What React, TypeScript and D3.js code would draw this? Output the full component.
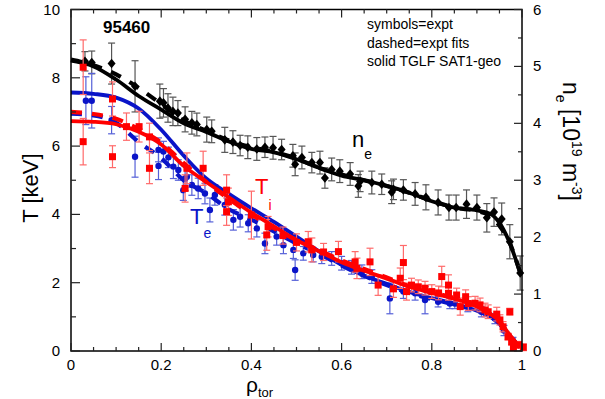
import React, { useEffect, useRef } from 'react';
import * as d3 from 'd3';

// experimental ne [1e19 m^-3]
const neRho = [0.031, 0.046, 0.09, 0.142, 0.197, 0.205, 0.215, 0.226, 0.237, 0.253, 0.268, 0.279, 0.301, 0.312, 0.341, 0.359, 0.375, 0.392, 0.412, 0.43, 0.448, 0.467, 0.492, 0.497, 0.512, 0.534, 0.552, 0.563, 0.578, 0.596, 0.619, 0.637, 0.641, 0.667, 0.689, 0.711, 0.715, 0.737, 0.763, 0.787, 0.814, 0.838, 0.854, 0.877, 0.9, 0.922, 0.938, 0.955, 0.973, 0.996];
const neVal = [5.09, 5.07, 5.05, 4.65, 4.39, 4.36, 4.27, 4.21, 4.18, 4.07, 4.01, 3.98, 3.89, 3.86, 3.71, 3.67, 3.61, 3.58, 3.55, 3.58, 3.57, 3.54, 3.43, 3.28, 3.4, 3.31, 3.31, 3.04, 3.19, 3.16, 3.11, 2.9, 2.98, 2.96, 2.93, 2.79, 2.84, 2.83, 2.76, 2.7, 2.61, 2.52, 2.52, 2.58, 2.52, 2.34, 2.44, 2.32, 1.92, 1.37];
const neErr = [0.17, 0.2, 0.36, 0.45, 0.3, 0.25, 0.25, 0.25, 0.22, 0.22, 0.2, 0.2, 0.22, 0.2, 0.22, 0.2, 0.18, 0.2, 0.2, 0.18, 0.2, 0.18, 0.2, 0.2, 0.2, 0.18, 0.2, 0.18, 0.2, 0.2, 0.2, 0.2, 0.18, 0.2, 0.18, 0.2, 0.18, 0.18, 0.2, 0.22, 0.22, 0.22, 0.22, 0.25, 0.22, 0.25, 0.25, 0.28, 0.3, 0.3];

// experimental Te [keV]
const teRho = [0.033, 0.046, 0.09, 0.142, 0.194, 0.194, 0.205, 0.216, 0.227, 0.238, 0.249, 0.253, 0.257, 0.268, 0.282, 0.297, 0.308, 0.319, 0.341, 0.36, 0.375, 0.393, 0.412, 0.43, 0.456, 0.471, 0.493, 0.497, 0.515, 0.537, 0.556, 0.578, 0.6, 0.622, 0.645, 0.667, 0.707, 0.737, 0.763, 0.785, 0.814, 0.84, 0.851, 0.88, 0.91, 0.94, 0.96, 0.98];
const teVal = [7.33, 7.33, 6.76, 5.69, 5.89, 5.42, 5.84, 5.67, 5.4, 5.3, 4.71, 5.05, 5.1, 4.86, 4.76, 4.61, 4.13, 4.57, 4.28, 3.84, 3.93, 3.74, 3.59, 3.15, 3.35, 3.1, 2.96, 2.37, 2.86, 2.81, 2.76, 2.71, 2.57, 2.45, 2.32, 2.18, 1.54, 1.74, 1.69, 1.49, 1.44, 1.39, 1.39, 1.3, 1.15, 0.95, 0.6, 0.3];
const teErr = [0.7, 0.8, 0.4, 0.6, 0.35, 0.4, 0.3, 0.3, 0.35, 0.3, 0.3, 0.35, 0.3, 0.3, 0.3, 0.3, 0.35, 0.3, 0.3, 0.3, 0.3, 0.25, 0.25, 0.3, 0.25, 0.25, 0.25, 0.3, 0.2, 0.2, 0.2, 0.2, 0.2, 0.2, 0.2, 0.2, 0.45, 0.2, 0.2, 0.4, 0.15, 0.15, 0.15, 0.15, 0.15, 0.15, 0.15, 0.1];

// experimental Ti [keV]
const tiRho = [0.027, 0.027, 0.092, 0.092, 0.123, 0.151, 0.174, 0.174, 0.253, 0.257, 0.293, 0.345, 0.345, 0.349, 0.4, 0.434, 0.437, 0.47, 0.5, 0.526, 0.534, 0.56, 0.593, 0.63, 0.634, 0.663, 0.681, 0.715, 0.73, 0.737, 0.744, 0.755, 0.77, 0.785, 0.8, 0.815, 0.822, 0.837, 0.837, 0.855, 0.863, 0.875, 0.881, 0.896, 0.907, 0.918, 0.925, 0.944, 0.951, 0.958, 0.973, 0.969, 0.977, 0.981, 0.992, 1.003];
const tiVal = [8.31, 6.13, 7.38, 5.69, 6.57, 6.57, 6.27, 5.35, 4.76, 5.35, 5.35, 4.71, 4.08, 4.37, 3.98, 3.4, 3.64, 3.38, 3.18, 3.2, 2.96, 2.9, 2.91, 2.61, 2.42, 2.61, 1.93, 1.82, 2.13, 2.59, 1.74, 1.93, 1.88, 1.84, 1.74, 1.7, 2.18, 1.93, 1.69, 1.64, 1.3, 1.59, 1.39, 1.4, 1.35, 1.2, 1.15, 1.08, 0.91, 0.71, 1.15, 0.42, 0.27, 0.11, 0.18, 0.11];
const tiErr = [0.8, 0.68, 0.5, 0.32, 0.4, 0.45, 0.4, 0.45, 0.4, 0.45, 0.5, 0.45, 0.4, 0.4, 0.7, 0.45, 0.3, 0.25, 0.25, 0.3, 0.35, 0.25, 0.3, 0.3, 0.3, 0.4, 0.3, 0.25, 0.3, 0.5, 0.25, 0.2, 0.2, 0.2, 0.2, 0.2, 0.3, 0.3, 0.2, 0.2, 0.25, 0.2, 0.2, 0.2, 0.2, 0.2, 0.2, 0.2, 0.15, 0.15, 0.1, 0.1, 0.1, 0.1, 0.1, 0.1];

// fit curves on a common rho grid
const fitRho = [0, 0.05, 0.1, 0.15, 0.2, 0.25, 0.3, 0.35, 0.4, 0.45, 0.5, 0.55, 0.6, 0.65, 0.7, 0.75, 0.8, 0.85, 0.9, 0.93, 0.95, 0.97, 0.995];
const teTglf = [7.57, 7.53, 7.42, 7.1, 6.48, 5.72, 5.05, 4.6, 4.18, 3.78, 3.35, 2.92, 2.52, 2.2, 1.97, 1.73, 1.55, 1.38, 1.18, 1.0, 0.8, 0.5, 0.1];
const tiTglf = [6.73, 6.71, 6.64, 6.42, 6.05, 5.42, 4.95, 4.5, 4.05, 3.65, 3.25, 2.92, 2.6, 2.35, 2.12, 1.88, 1.7, 1.53, 1.3, 1.08, 0.88, 0.52, 0.1];
const neTglf = [5.1, 5.0, 4.77, 4.48, 4.24, 4.0, 3.85, 3.68, 3.55, 3.49, 3.37, 3.22, 3.08, 3.0, 2.9, 2.78, 2.63, 2.52, 2.47, 2.41, 2.25, 1.95, 1.4];
const teFit = [6.95, 6.9, 6.68, 6.12, 5.65, 5.0, 4.62, 4.15, 3.85, 3.5, 3.15, 2.85, 2.5, 2.2, 1.93, 1.7, 1.52, 1.36, 1.18, 1.0, 0.8, 0.5, 0.1];
const tiFit = [7.0, 6.94, 6.8, 6.5, 6.1, 5.5, 4.95, 4.45, 4.0, 3.6, 3.25, 2.95, 2.65, 2.4, 2.15, 1.9, 1.72, 1.55, 1.32, 1.08, 0.85, 0.5, 0.1];
const neFit = [5.12, 5.02, 4.86, 4.62, 4.34, 4.05, 3.87, 3.7, 3.58, 3.5, 3.38, 3.22, 3.1, 3.0, 2.9, 2.78, 2.64, 2.52, 2.46, 2.38, 2.2, 1.95, 1.4];

const xMajor = [0, 0.2, 0.4, 0.6, 0.8, 1];
const tMajor = [0, 2, 4, 6, 8, 10];
const nMajor = [0, 1, 2, 3, 4, 5, 6];

const W = 605;
const H = 399;
const FONT = 'Liberation Sans, Arial, sans-serif';

const App: React.FC = () => {
  const svgRef = useRef<SVGSVGElement>(null);

  useEffect(() => {
    if (!svgRef.current) return;
    const svg = d3.select(svgRef.current);
    svg.selectAll('*').remove();

    const x = d3.scaleLinear().domain([0, 1]).range([71, 522]);
    const yT = d3.scaleLinear().domain([0, 10]).range([351, 9.5]);
    const yN = d3.scaleLinear().domain([0, 6]).range([351, 9.5]);

    const g = svg.append('g');

    const series = [
      { rho: neRho, val: neVal, err: neErr, y: yN, color: '#000', bar: '#555', shape: 'diamond', fit: neFit, tglf: neTglf },
      { rho: teRho, val: teVal, err: teErr, y: yT, color: '#0a14c8', bar: '#5560d8', shape: 'circle', fit: teFit, tglf: teTglf },
      { rho: tiRho, val: tiVal, err: tiErr, y: yT, color: '#ff0000', bar: '#ff6a6a', shape: 'square', fit: tiFit, tglf: tiTglf },
    ];

    series.forEach(s => {
      const pts = s.rho.map((r, i) => ({ r, v: s.val[i], e: s.err[i] }));
      // error bars
      const eb = g.append('g').attr('stroke', s.bar).attr('stroke-width', 1.2).attr('fill', 'none');
      pts.forEach(p => {
        const cx = x(p.r);
        const y1 = s.y(p.v + p.e);
        const y2 = s.y(Math.max(0, p.v - p.e));
        eb.append('line').attr('x1', cx).attr('x2', cx).attr('y1', y1).attr('y2', y2);
        eb.append('line').attr('x1', cx - 3.5).attr('x2', cx + 3.5).attr('y1', y1).attr('y2', y1);
        eb.append('line').attr('x1', cx - 3.5).attr('x2', cx + 3.5).attr('y1', y2).attr('y2', y2);
      });

      const line = d3.line<number>()
        .x((_, i) => x(fitRho[i]))
        .y(d => s.y(d))
        .curve(d3.curveMonotoneX);

      g.append('path')
        .attr('d', line(s.fit) as string)
        .attr('fill', 'none')
        .attr('stroke', s.color)
        .attr('stroke-width', 4.2)
        .attr('stroke-dasharray', '11,10');

      g.append('path')
        .attr('d', line(s.tglf) as string)
        .attr('fill', 'none')
        .attr('stroke', s.color)
        .attr('stroke-width', 3.8);

      // markers
      const mk = g.append('g').attr('fill', s.color);
      pts.forEach(p => {
        const cx = x(p.r);
        const cy = s.y(p.v);
        if (s.shape === 'circle') {
          mk.append('circle').attr('cx', cx).attr('cy', cy).attr('r', 3.2);
        } else if (s.shape === 'square') {
          mk.append('rect').attr('x', cx - 3.5).attr('y', cy - 3.5).attr('width', 7).attr('height', 7);
        } else {
          mk.append('path').attr('d', `M${cx},${cy - 4.8}L${cx + 4},${cy}L${cx},${cy + 4.8}L${cx - 4},${cy}Z`);
        }
      });
    });

    // frame
    const ax = svg.append('g').attr('stroke', '#222').attr('stroke-width', 1.2);
    ax.append('rect')
      .attr('x', 71).attr('y', 9.5).attr('width', 451).attr('height', 341.5)
      .attr('fill', 'none').attr('stroke', '#000').attr('stroke-width', 1.5);

    // x ticks (bottom + top)
    d3.range(0, 21).map(i => i * 0.05).forEach((t, i) => {
      const len = i % 4 === 0 ? 8 : 4;
      ax.append('line').attr('x1', x(t)).attr('x2', x(t)).attr('y1', 351).attr('y2', 351 - len);
      ax.append('line').attr('x1', x(t)).attr('x2', x(t)).attr('y1', 9.5).attr('y2', 9.5 + len);
    });
    // left ticks
    d3.range(0, 11).forEach(t => {
      const len = t % 2 === 0 ? 9 : 5;
      ax.append('line').attr('x1', 71).attr('x2', 71 + len).attr('y1', yT(t)).attr('y2', yT(t));
    });
    // right ticks
    d3.range(0, 13).map(i => i * 0.5).forEach((t, i) => {
      const len = i % 2 === 0 ? 8 : 4;
      ax.append('line').attr('x1', 522).attr('x2', 522 - len).attr('y1', yN(t)).attr('y2', yN(t));
    });

    const txt = svg.append('g').attr('font-family', FONT).attr('fill', '#000');
    xMajor.forEach(t => {
      txt.append('text').attr('x', x(t)).attr('y', 370).attr('text-anchor', 'middle')
        .attr('font-size', 15).text(t === 0 || t === 1 ? String(t) : t.toFixed(1));
    });
    tMajor.forEach(t => {
      txt.append('text').attr('x', 60).attr('y', yT(t) + 5).attr('text-anchor', 'end')
        .attr('font-size', 15).text(String(t));
    });
    nMajor.forEach(t => {
      txt.append('text').attr('x', 533).attr('y', yN(t) + 5).attr('text-anchor', 'start')
        .attr('font-size', 15).text(String(t));
    });

    // axis titles
    txt.append('text')
      .attr('transform', 'translate(38,188) rotate(-90)')
      .attr('text-anchor', 'middle').attr('font-size', 22).text('T [keV]');

    const xl = txt.append('text').attr('x', 246).attr('y', 392).attr('font-size', 21);
    xl.append('tspan').text('ρ');
    xl.append('tspan').attr('dy', 5).attr('font-size', 13).text('tor');

    const yr = txt.append('text').attr('transform', 'translate(563,82) rotate(90)').attr('font-size', 23);
    yr.append('tspan').text('n');
    yr.append('tspan').attr('dy', 7).attr('font-size', 14).text('e');
    yr.append('tspan').attr('dy', -7).text(' [10');
    yr.append('tspan').attr('dy', -9).attr('font-size', 14).text('19');
    yr.append('tspan').attr('dy', 9).text(' m');
    yr.append('tspan').attr('dy', -9).attr('font-size', 14).text('-3');
    yr.append('tspan').attr('dy', 9).text(']');

    // annotations
    txt.append('text').attr('x', 103).attr('y', 33).attr('font-size', 17).attr('font-weight', 'bold').text('95460');
    ['symbols=expt', 'dashed=expt fits', 'solid TGLF SAT1-geo'].forEach((s, i) => {
      txt.append('text').attr('x', 367).attr('y', 29 + i * 18.5).attr('font-size', 14).text(s);
    });

    const nl = txt.append('text').attr('x', 352).attr('y', 147).attr('font-size', 22);
    nl.append('tspan').text('n');
    nl.append('tspan').attr('dy', 12).attr('font-size', 14).text('e');

    const tel = txt.append('text').attr('x', 190).attr('y', 224).attr('font-size', 22).attr('fill', '#0a14c8');
    tel.append('tspan').text('T');
    tel.append('tspan').attr('dy', 14).attr('font-size', 14).text('e');

    const til = txt.append('text').attr('x', 255).attr('y', 194).attr('font-size', 22).attr('fill', '#ff0000');
    til.append('tspan').text('T');
    til.append('tspan').attr('dy', 16).attr('font-size', 14).text('i');
  }, []);

  return (
    <div style={{ position: 'absolute', left: 0, top: 0 }}>
      <svg ref={svgRef} width={W} height={H} style={{ display: 'block', background: '#fff' }} />
    </div>
  );
};

export default App;
